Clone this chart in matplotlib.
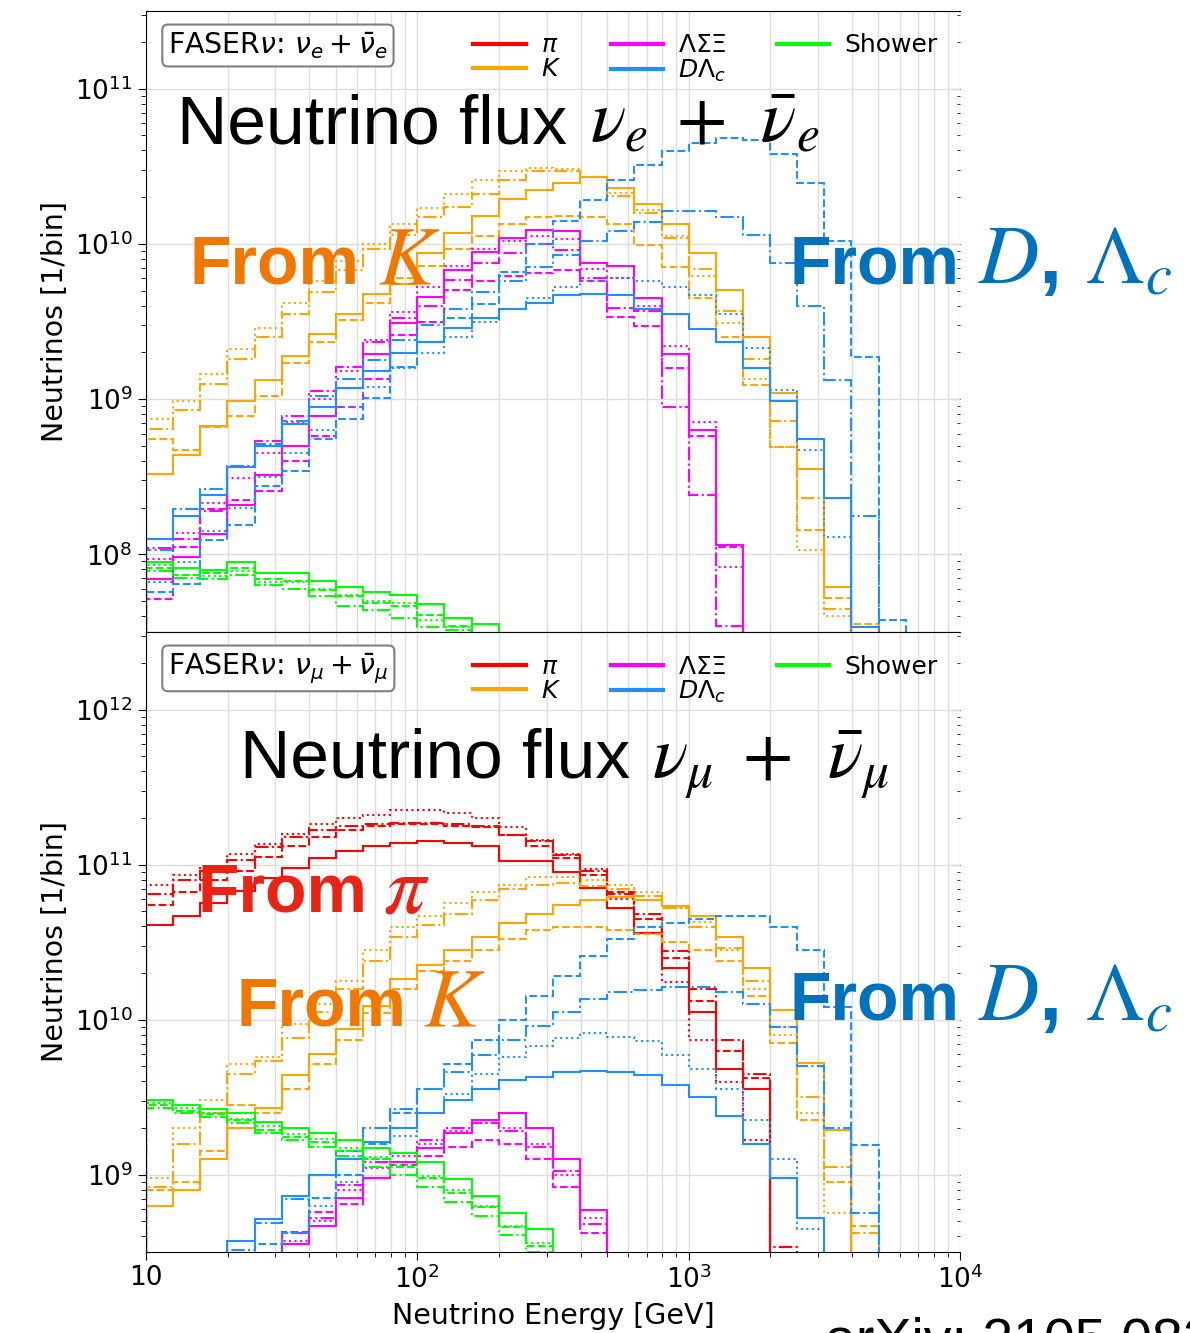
import numpy as np
import matplotlib.pyplot as plt
from matplotlib.lines import Line2D
from matplotlib.ticker import FuncFormatter

nan = np.nan

# energy bins: 10 per decade, 10 GeV - 10 TeV
edges = np.logspace(1, 4, 31)

# log10(neutrinos per bin), one list per generator (line style)
# ---- nu_e + nubar_e ----
nue_kaon_solid = [8.52, 8.64, 8.83, 8.99, 9.12, 9.28, 9.42, 9.55, 9.68, 9.74,
                  9.94, 10.07, 10.18, 10.29, 10.35, 10.39, 10.43, 10.36, 10.26, 10.13,
                  9.94, 9.70, 9.40, 9.04, 8.55, 7.79] + [nan] * 4
nue_kaon_dashed = [8.74, 8.67, 8.82, 8.89, 9.02, 9.23, 9.37, 9.51, 9.62, 9.78,
                   9.86, 9.97, 10.05, 10.13, 10.17, 10.18, 10.17, 10.13, 9.99, 9.85,
                   9.65, 9.40, 9.09, 8.69, 8.16, 7.72, 7.55] + [nan] * 3
nue_kaon_dotted = [8.87, 8.99, 9.16, 9.32, 9.46, 9.62, 9.76, 9.89, 10.00, 10.13,
                   10.23, 10.32, 10.41, 10.47, 10.49, 10.48, 10.43, 10.33, 10.22, 10.05,
                   9.79, 9.49, 9.13, 8.69, 8.03, 7.60] + [nan] * 4
nue_kaon_dashdot = [8.81, 8.93, 9.10, 9.26, 9.40, 9.55, 9.69, 9.83, 9.97, 10.06,
                    10.17, 10.24, 10.32, 10.41, 10.47, 10.47, 10.43, 10.31, 10.20, 10.04,
                    9.84, 9.57, 9.26, 8.86, 8.36, 7.65] + [nan] * 4

nue_hyperon_solid = [7.84, 7.98, 8.13, 8.32, 8.51, 8.70, 8.89, 9.07, 9.29, 9.49,
                     9.66, 9.83, 9.95, 10.04, 10.09, 10.08, 9.88, 9.86, 9.65, 9.29,
                     8.80, 8.06] + [nan] * 8
nue_hyperon_dashed = [7.71, 8.05, 8.29, 8.35, 8.41, 8.60, 8.76, 8.95, 9.13, 9.41,
                      9.50, 9.70, 9.76, 9.79, 9.81, 9.83, 9.76, 9.53, 9.47, 9.20,
                      8.76, 8.05] + [nan] * 8
nue_hyperon_dotted = [7.97, 8.14, 8.33, 8.49, 8.65, 8.85, 9.00, 9.18, 9.38, 9.56,
                      9.72, 9.86, 9.97, 10.02, 10.05, 10.03, 9.84, 9.78, 9.60, 9.34,
                      8.85, 7.92] + [nan] * 8
nue_hyperon_dashdot = [8.04, 8.10, 8.28, 8.57, 8.73, 8.89, 9.05, 9.21, 9.37, 9.52,
                       9.60, 9.77, 9.88, 9.94, 10.00, 9.96, 9.78, 9.59, 9.57, 8.95,
                       8.38, 7.54] + [nan] * 8

nue_charm_solid = [8.10, 8.25, 8.38, 8.56, 8.70, 8.84, 8.95, 9.07, 9.18, 9.30,
                   9.37, 9.46, 9.52, 9.58, 9.62, 9.67, 9.68, 9.67, 9.58, 9.55,
                   9.45, 9.37, 9.20, 8.99, 8.74, 8.36, 7.53] + [nan] * 3
nue_charm_dashed = [7.76, 7.81, 8.09, 8.19, 8.44, 8.54, 8.74, 8.87, 9.01, 9.21,
                    9.37, 9.52, 9.61, 9.82, 10.00, 10.15, 10.28, 10.41, 10.51, 10.60,
                    10.65, 10.68, 10.67, 10.58, 10.39, 10.02, 9.27, 7.58] + [nan] * 2
nue_charm_dotted = [7.82, 7.95, 8.15, 8.30, 8.50, 8.65, 8.80, 8.95, 9.08, 9.20,
                    9.30, 9.40, 9.50, 9.58, 9.65, 9.72, 9.76, 9.78, 9.76, 9.72,
                    9.67, 9.55, 9.33, 9.06, 8.67, 8.11] + [nan] * 4
nue_charm_dashdot = [8.03, 8.29, 8.42, 8.57, 8.71, 8.86, 9.02, 9.13, 9.25, 9.38,
                     9.48, 9.58, 9.69, 9.76, 9.85, 9.93, 10.02, 10.08, 10.14, 10.21,
                     10.21, 10.17, 10.06, 9.88, 9.60, 9.12, 8.25] + [nan] * 3

nue_shower_solid = [7.95, 7.91, 7.90, 7.95, 7.88, 7.88, 7.83, 7.79, 7.76, 7.74,
                    7.68, 7.59, 7.55] + [nan] * 17
nue_shower_dashed = [7.91, 7.87, 7.88, 7.91, 7.84, 7.83, 7.77, 7.73, 7.69, 7.67,
                     7.61, 7.54] + [nan] * 18
nue_shower_dotted = [7.93, 7.87, 7.86, 7.89, 7.82, 7.82, 7.78, 7.74, 7.70, 7.69,
                     7.58, 7.53] + [nan] * 18
nue_shower_dashdot = [7.89, 7.85, 7.84, 7.87, 7.80, 7.78, 7.73, 7.67, 7.64, 7.59,
                      7.53, 7.51] + [nan] * 18

# ---- nu_mu + nubar_mu ----
numu_pion_solid = [10.61, 10.67, 10.75, 10.83, 10.91, 10.98, 11.04, 11.09, 11.12, 11.14,
                   11.15, 11.14, 11.12, 11.02, 11.02, 10.95, 10.85, 10.72, 10.56, 10.33,
                   10.05, 9.68, 9.55] + [nan] * 7
numu_pion_dashed = [10.74, 10.82, 10.90, 10.96, 11.05, 11.12, 11.18, 11.22, 11.25, 11.26,
                    11.26, 11.25, 11.24, 11.19, 11.12, 11.04, 10.93, 10.82, 10.65, 10.40,
                    10.12, 9.80, 9.62] + [nan] * 7
numu_pion_dotted = [10.87, 10.93, 10.98, 11.07, 11.13, 11.20, 11.26, 11.30, 11.32, 11.35,
                    11.35, 11.33, 11.30, 11.24, 11.16, 11.07, 10.97, 10.78, 10.60, 10.24,
                    9.87, 9.60, 9.22] + [nan] * 7
numu_pion_dashdot = [10.81, 10.90, 10.96, 11.03, 11.11, 11.18, 11.22, 11.25, 11.26, 11.27,
                     11.27, 11.26, 11.25, 11.19, 11.15, 11.06, 10.96, 10.81, 10.68, 10.44,
                     10.20, 9.87, 9.65, 8.53] + [nan] * 6

numu_kaon_solid = [8.80, 8.90, 9.10, 9.30, 9.43, 9.64, 9.78, 9.94, 10.09, 10.26,
                   10.35, 10.45, 10.53, 10.62, 10.68, 10.74, 10.77, 10.79, 10.77, 10.73,
                   10.67, 10.53, 10.33, 10.06, 9.72, 9.29] + [nan] * 4
numu_kaon_dashed = [8.90, 8.95, 9.15, 9.45, 9.40, 9.55, 9.71, 9.87, 10.04, 10.20,
                    10.31, 10.38, 10.45, 10.52, 10.58, 10.60, 10.60, 10.58, 10.55, 10.50,
                    10.45, 10.38, 10.15, 9.85, 9.35, 8.95, 8.67] + [nan] * 3
numu_kaon_dotted = [8.98, 9.30, 9.48, 9.71, 9.76, 9.97, 10.10, 10.25, 10.45, 10.60,
                    10.67, 10.75, 10.82, 10.87, 10.92, 10.92, 10.90, 10.87, 10.82, 10.72,
                    10.63, 10.45, 10.20, 9.90, 9.40, 8.75] + [nan] * 4
numu_kaon_dashdot = [8.92, 9.20, 9.40, 9.65, 9.73, 9.88, 10.05, 10.20, 10.38, 10.53,
                     10.61, 10.68, 10.77, 10.84, 10.87, 10.88, 10.86, 10.84, 10.80, 10.72,
                     10.60, 10.46, 10.25, 9.95, 9.50, 9.05, 8.62] + [nan] * 3

numu_hyperon_solid = [nan] * 4 + [8.40, 8.55, 8.67, 8.85, 8.98, 9.08, 9.17, 9.27, 9.35,
                                  9.40, 9.30, 9.10, 8.77] + [nan] * 13
numu_hyperon_dashed = [nan] * 5 + [8.63, 8.76, 8.81, 8.98, 9.06, 9.12, 9.18, 9.22,
                                   9.20, 9.10, 8.92, 8.62] + [nan] * 13
numu_hyperon_dotted = [nan] * 4 + [8.45, 8.57, 8.70, 8.90, 9.04, 9.12, 9.20, 9.28, 9.33,
                                   9.30, 9.20, 9.00, 8.72] + [nan] * 13
numu_hyperon_dashdot = [nan] * 5 + [8.62, 8.72, 8.93, 9.08, 9.14, 9.22, 9.30, 9.33,
                                    9.28, 9.18, 9.02, 8.68] + [nan] * 13

numu_charm_solid = [nan] * 3 + [8.57, 8.71, 8.86, 9.00, 9.10, 9.21, 9.30, 9.40, 9.48,
                                9.55, 9.61, 9.63, 9.66, 9.67, 9.66, 9.64, 9.58, 9.50,
                                9.38, 9.20, 8.98, 8.72] + [nan] * 5
numu_charm_dashed = [nan] * 3 + [8.45, 8.55, 8.62, 8.85, 9.00, 9.20, 9.40, 9.55, 9.71,
                                 9.87, 10.00, 10.15, 10.28, 10.41, 10.52, 10.60, 10.62,
                                 10.65, 10.67, 10.67, 10.60, 10.45, 10.08, 9.19] + [nan] * 3
numu_charm_dotted = [nan] * 5 + [8.62, 8.80, 8.95, 9.10, 9.25, 9.40, 9.52, 9.65, 9.76,
                                 9.83, 9.88, 9.91, 9.89, 9.86, 9.77, 9.68, 9.55, 9.35,
                                 9.10, 8.65] + [nan] * 5
numu_charm_dashdot = [nan] * 3 + [8.51, 8.69, 8.84, 9.00, 9.15, 9.30, 9.42, 9.55, 9.66,
                                  9.77, 9.87, 9.96, 10.05, 10.13, 10.18, 10.19, 10.21,
                                  10.21, 10.18, 10.10, 9.95, 9.70, 9.30, 8.75] + [nan] * 3

numu_shower_solid = [9.48, 9.45, 9.42, 9.40, 9.34, 9.30, 9.27, 9.22, 9.17, 9.14,
                     9.08, 8.97, 8.86, 8.75, 8.65] + [nan] * 15
numu_shower_dashed = [9.45, 9.41, 9.39, 9.35, 9.29, 9.24, 9.21, 9.15, 9.10, 9.05,
                      8.98, 8.88, 8.79, 8.66, 8.54] + [nan] * 15
numu_shower_dotted = [9.46, 9.43, 9.40, 9.36, 9.31, 9.26, 9.23, 9.17, 9.11, 9.06,
                      8.99, 8.90, 8.80, 8.67, 8.56] + [nan] * 15
numu_shower_dashdot = [9.43, 9.40, 9.37, 9.33, 9.27, 9.22, 9.18, 9.12, 9.05, 9.00,
                       8.92, 8.82, 8.73, 8.61, 8.50] + [nan] * 15

colors = {'pi': 'red', 'K': 'orange', 'hyp': 'magenta', 'charm': 'dodgerblue',
          'shower': 'lime'}
styles = ['-', '--', ':', '-.']

W, H = 1190, 1333
fig = plt.figure(figsize=(W / 100, H / 100), dpi=100)
ax1 = fig.add_axes([146 / W, 1 - 632 / H, 814 / W, 621 / H])
ax2 = fig.add_axes([146 / W, 1 - 1252 / H, 814 / W, 620 / H], sharex=ax1)


def draw(ax, groups):
    for key, series in groups:
        for vals, ls in zip(series, styles):
            v = np.nan_to_num(10.0 ** np.array(vals), nan=1e3)
            ax.stairs(v, edges, baseline=1e3, color=colors[key], ls=ls, lw=1.5)


draw(ax1, [('K', [nue_kaon_solid, nue_kaon_dashed, nue_kaon_dotted, nue_kaon_dashdot]),
           ('hyp', [nue_hyperon_solid, nue_hyperon_dashed, nue_hyperon_dotted, nue_hyperon_dashdot]),
           ('charm', [nue_charm_solid, nue_charm_dashed, nue_charm_dotted, nue_charm_dashdot]),
           ('shower', [nue_shower_solid, nue_shower_dashed, nue_shower_dotted, nue_shower_dashdot])])
draw(ax2, [('pi', [numu_pion_solid, numu_pion_dashed, numu_pion_dotted, numu_pion_dashdot]),
           ('K', [numu_kaon_solid, numu_kaon_dashed, numu_kaon_dotted, numu_kaon_dashdot]),
           ('hyp', [numu_hyperon_solid, numu_hyperon_dashed, numu_hyperon_dotted, numu_hyperon_dashdot]),
           ('charm', [numu_charm_solid, numu_charm_dashed, numu_charm_dotted, numu_charm_dashdot]),
           ('shower', [numu_shower_solid, numu_shower_dashed, numu_shower_dotted, numu_shower_dashdot])])

handles = [Line2D([], [], color=colors[k], lw=3) for k in ['pi', 'K', 'hyp', 'charm', 'shower']]
labels = [r'$\pi$', r'$K$', r'$\Lambda\Sigma\Xi$', r'$D\Lambda_c$', 'Shower']
tags = [r'FASER$\nu$: $\nu_e + \bar{\nu}_e$', r'FASER$\nu$: $\nu_\mu + \bar{\nu}_\mu$']
ylims = [(10**7.5, 10**11.5), (10**8.5, 10**12.5)]

for ax, lim, tag in zip([ax1, ax2], ylims, tags):
    ax.set_xscale('log')
    ax.set_yscale('log')
    ax.set_xlim(10, 1e4)
    ax.set_ylim(*lim)
    ax.grid(True, which='major', color='#dddddd', lw=1)
    ax.grid(True, which='minor', axis='x', color='#dddddd', lw=1)
    ax.set_axisbelow(True)
    ax.spines['right'].set_visible(False)
    ax.tick_params(which='both', labelsize=19, direction='out')
    ax.tick_params(which='major', length=6)
    ax.tick_params(which='minor', length=3.5)
    ax.set_ylabel('Neutrinos [1/bin]', fontsize=20.5)
    sec = ax.secondary_yaxis('right')
    sec.spines['right'].set_visible(False)
    sec.tick_params(which='both', direction='in', labelright=False)
    sec.tick_params(which='major', length=6)
    ax.legend(handles, labels, ncol=3, loc='upper right', frameon=False, fontsize=18,
              labelspacing=0.0, columnspacing=2.0, handletextpad=0.6, handlelength=2.1)
    ax.text(0.027, 0.969, tag, transform=ax.transAxes, va='top', ha='left', fontsize=20.5,
            bbox=dict(boxstyle='round,pad=0.2', fc='white', ec='gray', lw=1.5))

ax1.tick_params(axis='x', which='both', bottom=False, labelbottom=False)
ax2.xaxis.set_major_formatter(FuncFormatter(
    lambda v, p: '10' if abs(v - 10) < 1e-6 else r'$10^{%d}$' % round(np.log10(v))))
ax2.set_xlabel('Neutrino Energy [GeV]', fontsize=20.5, labelpad=6)


def overlay(x, y, s, color, size=50, bold=False):
    fig.text(x / W, 1 - y / H, s, color=color, fontsize=size, ha='left', va='baseline',
             family='Liberation Sans', weight='bold' if bold else 'normal',
             math_fontfamily='stix')


orange, blue, red = '#f07800', '#0072bb', '#ea2414'

overlay(177, 143, 'Neutrino flux', 'black')
overlay(590, 143, r'$\nu_e \;+\;\, \bar{\nu}_e$', 'black', size=53)
overlay(190, 283, 'From', orange, size=49, bold=True)
overlay(378, 283, r'$K$', orange, size=60)
overlay(790, 283, 'From', blue, size=49, bold=True)
overlay(978, 283, r'$D$, $\Lambda_c$', blue, size=60, bold=True)

overlay(240, 778, 'Neutrino flux', 'black')
overlay(652, 778, r'$\nu_\mu \;+\;\, \bar{\nu}_\mu$', 'black', size=53)
overlay(197, 912, 'From', red, size=49, bold=True)
overlay(383, 912, r'$\pi$', red, size=60)
overlay(237, 1025, 'From', orange, size=49, bold=True)
overlay(423, 1025, r'$K$', orange, size=60)
overlay(790, 1020, 'From', blue, size=49, bold=True)
overlay(978, 1020, r'$D$, $\Lambda_c$', blue, size=60, bold=True)

overlay(825, 1356, 'arXiv: 2105.08270', 'black', size=40)

fig.savefig('out.png', dpi=100)
